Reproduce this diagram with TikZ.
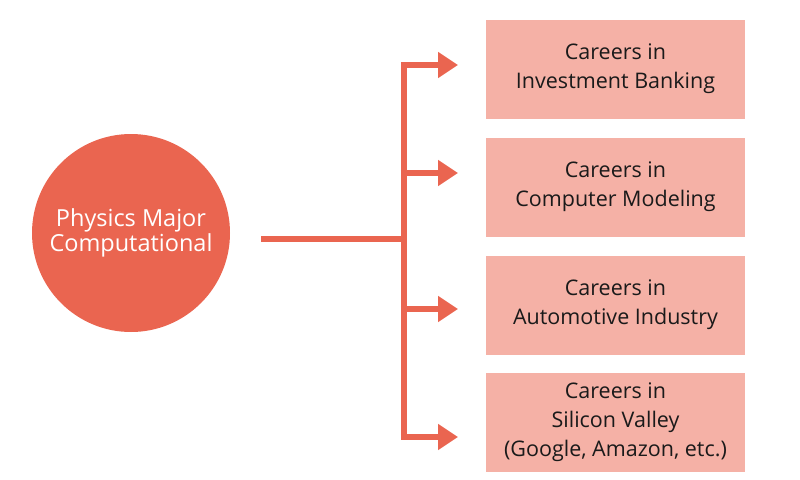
\documentclass[tikz,border=0pt]{standalone}
\usepackage{fontspec}
\setmainfont{Open Sans}
\usetikzlibrary{arrows.meta}
\definecolor{coral}{HTML}{EA6550}
\definecolor{pinkbox}{HTML}{F5B1A6}
\definecolor{txt}{HTML}{1A1A1A}
\begin{document}
\begin{tikzpicture}[x=1pt,y=-1pt,
  careerbox/.style={fill=pinkbox, draw=none, minimum width=259pt, minimum height=99pt,
    inner sep=0pt, align=center, text=txt, font=\fontsize{21.5}{29}\selectfont},
  hub/.style={circle, fill=coral, draw=none, minimum size=198pt, inner sep=0pt,
    align=center, text=white, font=\fontsize{23.5}{25.5}\selectfont},
  link/.style={draw=coral, line width=6.5pt},
  arr/.style={draw=coral, line width=6.5pt, -{Triangle[length=20pt,width=25pt]}}
]
\useasboundingbox (0,0) rectangle (800,479);
\node[hub] (phys) at (131,233) {Physics Major\\Computational};
\node[careerbox] (b1) at (615.5,69) {Careers in\\Investment Banking};
\node[careerbox] (b2) at (615.5,187) {Careers in\\Computer Modeling};
\node[careerbox] (b3) at (615.5,305) {Careers in\\Automotive Industry};
\node[careerbox] (b4) at (615.5,422.5) {Careers in\\Silicon Valley\\(Google, Amazon, etc.)};
\coordinate (start) at (261,239);
\coordinate (j) at (404,239);
\coordinate (t1) at (404,65);
\coordinate (t2) at (404,173);
\coordinate (t3) at (404,309);
\coordinate (t4) at (404,437);
\coordinate (e1) at (458,65);
\coordinate (e2) at (458,173);
\coordinate (e3) at (458,309);
\coordinate (e4) at (458,437);
\draw[link] (start) -- (j);
\draw[link] ([yshift=-3.25pt]t1) -- ([yshift=3.25pt]t4);
\draw[arr] ([xshift=-3.25pt]t1) -- (e1);
\draw[arr] ([xshift=-3.25pt]t2) -- (e2);
\draw[arr] ([xshift=-3.25pt]t3) -- (e3);
\draw[arr] ([xshift=-3.25pt]t4) -- (e4);
\end{tikzpicture}
\end{document}
